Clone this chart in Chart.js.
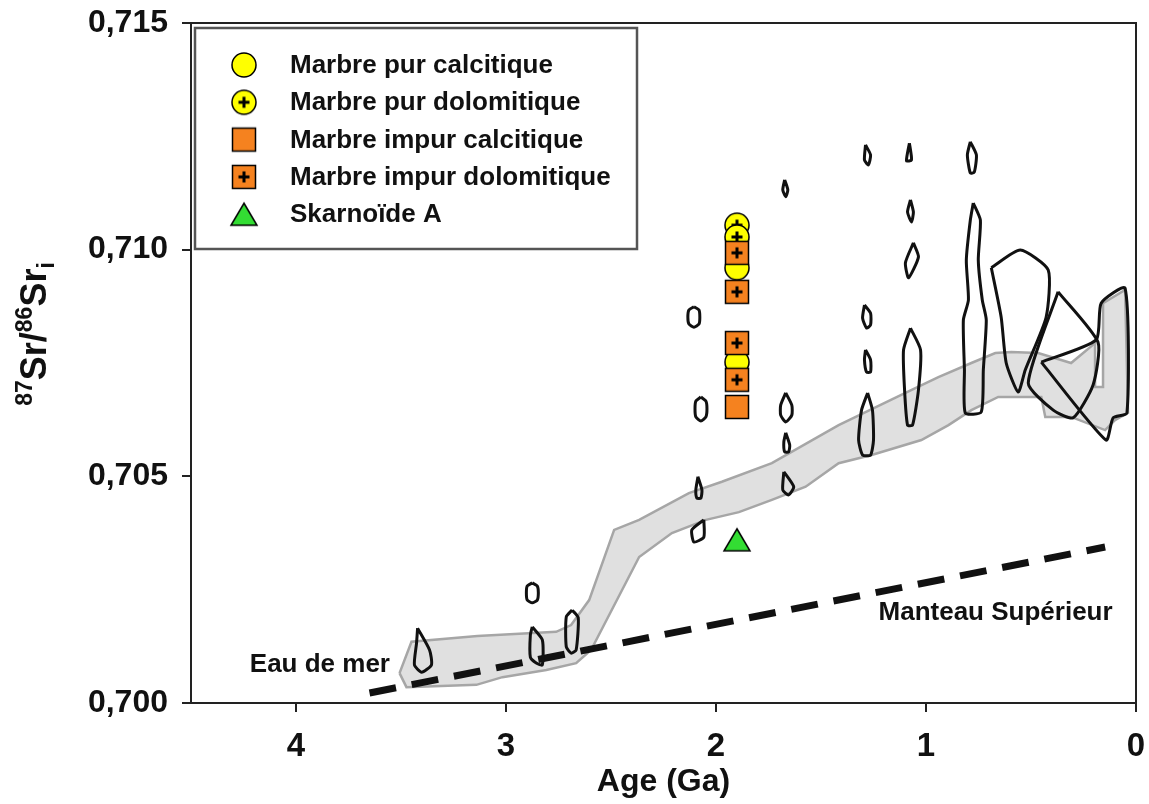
<!DOCTYPE html>
<html>
<head>
<meta charset="utf-8">
<script src="https://cdn.jsdelivr.net/npm/chart.js@4.4.1/dist/chart.umd.min.js"></script>
<style>
  body { margin: 0; background: #fff; }
  #wrap { width: 1149px; height: 804px; }
</style>
</head>
<body>
<div id="wrap"><canvas id="graphe" width="1149" height="804"></canvas></div>
<script>
// ---- axes ----
const xTicks = [0, 1, 2, 3, 4];
const yTicks = [0.700, 0.705, 0.710, 0.715];

// ---- échantillons (âge ~1,9 Ga) ----
const sampleAge = 1.9;
const pureCalciticSr = [0.70960, 0.70752];
const pureDolomiticSr = [0.71054, 0.71028];
const impureCalciticSr = [0.70653];
const impureDolomiticSr = [0.70993, 0.70907, 0.70794, 0.70713];
const skarnoidSr = [0.70360];

// ---- courbe de l'eau de mer (bande grise) : bord haut puis bord bas ----
const bandAges = [3.507, 3.450, 3.136, 2.761, 2.690, 2.604, 2.485, 2.366, 2.129, 1.972,
  1.734, 1.416, 1.098, 0.941, 0.784, 0.670, 0.594, 0.466, 0.309, 0.195,
  0.195, 0.157, 0.157, 0.052, 0.038,
  0.100, 0.147, 0.309, 0.432, 0.451, 0.656, 0.784, 0.893, 1.022, 1.259,
  1.416, 1.573, 1.734, 1.891, 2.048, 2.210, 2.366, 2.595, 2.666, 2.808,
  3.017, 3.141, 3.474, 3.507];
const bandSr = [0.70066, 0.70135, 0.70148, 0.70157, 0.70172, 0.70227, 0.70382, 0.70404, 0.70463, 0.70488,
  0.70529, 0.70613, 0.70684, 0.70719, 0.70750, 0.70772, 0.70774, 0.70772, 0.70750, 0.70794,
  0.70697, 0.70697, 0.70882, 0.70911, 0.70640,
  0.70624, 0.70602, 0.70631, 0.70631, 0.70675, 0.70675, 0.70646, 0.70613, 0.70580, 0.70547,
  0.70529, 0.70477, 0.70448, 0.70421, 0.70404, 0.70375, 0.70322, 0.70117, 0.70088, 0.70073,
  0.70057, 0.70040, 0.70035, 0.70066];

// ---- manteau supérieur (tirets) ----
const mantleAges = [3.65, 0.147];
const mantleSr = [0.70022, 0.70344];

// ---- contours noirs (carbonates marins) : [âge, Sr] ----
const contours = [
  [[3.421, 0.70165], [3.364, 0.70117], [3.355, 0.70084], [3.402, 0.70068], [3.436, 0.70084], [3.426, 0.70132]],
  [[2.875, 0.70168], [2.827, 0.70139], [2.827, 0.70084], [2.856, 0.70088], [2.884, 0.70101], [2.884, 0.70150]],
  [[2.685, 0.70205], [2.656, 0.70188], [2.666, 0.70117], [2.690, 0.70110], [2.713, 0.70124], [2.713, 0.70190]],
  [[2.875, 0.70265], [2.851, 0.70258], [2.846, 0.70243], [2.851, 0.70227], [2.875, 0.70221], [2.899, 0.70227], [2.903, 0.70243], [2.899, 0.70258]],
  [[2.105, 0.70874], [2.081, 0.70867], [2.077, 0.70851], [2.081, 0.70836], [2.105, 0.70829], [2.129, 0.70836], [2.134, 0.70851], [2.129, 0.70867]],
  [[2.072, 0.70675], [2.048, 0.70666], [2.043, 0.70649], [2.048, 0.70631], [2.072, 0.70622], [2.096, 0.70631], [2.100, 0.70649], [2.096, 0.70666]],
  [[2.086, 0.70499], [2.067, 0.70470], [2.072, 0.70452], [2.091, 0.70452], [2.096, 0.70470]],
  [[2.058, 0.70404], [2.058, 0.70366], [2.105, 0.70355], [2.115, 0.70382]],
  [[1.668, 0.70684], [1.639, 0.70657], [1.639, 0.70635], [1.668, 0.70620], [1.692, 0.70635], [1.692, 0.70657]],
  [[1.668, 0.70596], [1.649, 0.70569], [1.654, 0.70554], [1.673, 0.70554], [1.677, 0.70576]],
  [[1.677, 0.70510], [1.630, 0.70477], [1.654, 0.70459], [1.682, 0.70470]],
  [[1.673, 0.71154], [1.658, 0.71132], [1.668, 0.71117], [1.682, 0.71132]],
  [[1.288, 0.71231], [1.264, 0.71209], [1.274, 0.71187], [1.293, 0.71198]],
  [[1.293, 0.70878], [1.264, 0.70860], [1.264, 0.70834], [1.283, 0.70827], [1.302, 0.70849]],
  [[1.288, 0.70779], [1.264, 0.70757], [1.264, 0.70730], [1.283, 0.70730], [1.293, 0.70757]],
  [[1.278, 0.70684], [1.255, 0.70646], [1.250, 0.70580], [1.264, 0.70547], [1.302, 0.70547], [1.321, 0.70580], [1.307, 0.70646]],
  [[1.079, 0.71235], [1.069, 0.71198], [1.093, 0.71196]],
  [[1.074, 0.71110], [1.060, 0.71083], [1.069, 0.71061], [1.088, 0.71083]],
  [[1.060, 0.71015], [1.036, 0.70984], [1.083, 0.70938], [1.098, 0.70971]],
  [[1.074, 0.70827], [1.026, 0.70779], [1.036, 0.70690], [1.064, 0.70613], [1.088, 0.70613], [1.102, 0.70690], [1.107, 0.70779]],
  [[0.789, 0.71238], [0.760, 0.71209], [0.770, 0.71171], [0.789, 0.71169], [0.803, 0.71209]],
  [[0.775, 0.71103], [0.741, 0.71065], [0.751, 0.70977], [0.732, 0.70889], [0.713, 0.70845], [0.727, 0.70735], [0.737, 0.70642],
   [0.813, 0.70640], [0.817, 0.70735], [0.822, 0.70845], [0.798, 0.70889], [0.808, 0.70977], [0.789, 0.71065]],
  [[0.689, 0.70960], [0.551, 0.70999], [0.418, 0.70955], [0.428, 0.70851], [0.527, 0.70735], [0.561, 0.70686], [0.618, 0.70750], [0.642, 0.70851]],
  [[0.371, 0.70907], [0.181, 0.70796], [0.204, 0.70702], [0.299, 0.70629], [0.394, 0.70646], [0.513, 0.70706]],
  [[0.451, 0.70752], [0.190, 0.70801], [0.166, 0.70882], [0.052, 0.70915], [0.043, 0.70640], [0.109, 0.70629], [0.143, 0.70580]]
];

// ---- textes posés sur le graphe ----
const notes = [
  { text: 'Eau de mer', age: 4.22, sr: 0.70084 },
  { text: 'Manteau Supérieur', age: 1.226, sr: 0.70199 }
];

const FONT = "'Liberation Sans', Arial, sans-serif";

// symbole dessiné une fois sur un petit canvas, réutilisé pour les points et la légende
function symbole(forme, couleur, plus) {
  const c = document.createElement('canvas');
  c.width = 30; c.height = 30;
  const g = c.getContext('2d');
  g.fillStyle = couleur;
  g.strokeStyle = '#000';
  g.lineWidth = 1.5;
  g.beginPath();
  if (forme === 'rond') g.arc(15, 15, 12, 0, Math.PI * 2);
  else if (forme === 'carre') g.rect(3.5, 3.5, 23, 23);
  else { g.moveTo(15, 4); g.lineTo(28, 26); g.lineTo(2, 26); g.closePath(); }
  g.fill();
  g.stroke();
  if (plus) {
    g.lineWidth = 3;
    g.beginPath();
    g.moveTo(15, 9.5); g.lineTo(15, 20.5);
    g.moveTo(9.5, 15); g.lineTo(20.5, 15);
    g.stroke();
  }
  return c;
}

const JAUNE = '#FFFF00';
const ORANGE = '#F5821F';
const VERT = '#33DD33';

const serieEchantillons = [
  { label: 'Marbre pur calcitique', sr: pureCalciticSr, img: symbole('rond', JAUNE, false), order: 6 },
  { label: 'Marbre pur dolomitique', sr: pureDolomiticSr, img: symbole('rond', JAUNE, true), order: 5 },
  { label: 'Marbre impur calcitique', sr: impureCalciticSr, img: symbole('carre', ORANGE, false), order: 4 },
  { label: 'Marbre impur dolomitique', sr: impureDolomiticSr, img: symbole('carre', ORANGE, true), order: 3 },
  { label: 'Skarnoïde A', sr: skarnoidSr, img: symbole('triangle', VERT, false), order: 2 }
];

const datasets = [];

datasets.push({
  label: 'bande',
  data: bandAges.map((a, i) => ({ x: a, y: bandSr[i] })),
  showLine: true,
  fill: 'shape',
  backgroundColor: '#E0E0E0',
  borderColor: '#A6A6A6',
  borderWidth: 2.5,
  pointRadius: 0,
  order: 20
});

datasets.push({
  label: 'manteau',
  data: mantleAges.map((a, i) => ({ x: a, y: mantleSr[i] })),
  showLine: true,
  borderColor: '#111',
  borderWidth: 7,
  borderDash: [27, 16],
  pointRadius: 0,
  order: 19
});

contours.forEach((pts, k) => {
  const ferme = pts.concat([pts[0]]);
  datasets.push({
    label: 'contour' + k,
    data: ferme.map(p => ({ x: p[0], y: p[1] })),
    showLine: true,
    borderColor: '#111',
    borderWidth: 3,
    tension: 0.2,
    pointRadius: 0,
    order: 10
  });
});

serieEchantillons.forEach(s => {
  datasets.push({
    label: s.label,
    data: s.sr.map(v => ({ x: sampleAge, y: v })),
    pointStyle: s.img,
    pointRadius: 12,
    order: s.order
  });
});

// cadre, légende, annotations et titre de l'axe Y
const habillage = {
  id: 'habillage',
  afterDatasetsDraw(chart) {
    const { ctx, chartArea: ca, scales } = chart;
    ctx.save();

    // côtés haut et droit du cadre
    ctx.strokeStyle = '#222';
    ctx.lineWidth = 2;
    ctx.beginPath();
    ctx.moveTo(ca.left, ca.top);
    ctx.lineTo(ca.right, ca.top);
    ctx.lineTo(ca.right, ca.bottom);
    ctx.stroke();

    // légende
    const lx = ca.left + 4, ly = ca.top + 5, lw = 442, lh = 221;
    ctx.fillStyle = '#fff';
    ctx.fillRect(lx, ly, lw, lh);
    ctx.strokeStyle = '#555';
    ctx.lineWidth = 2.5;
    ctx.strokeRect(lx, ly, lw, lh);
    ctx.font = 'bold 26px ' + FONT;
    ctx.fillStyle = '#111';
    ctx.textBaseline = 'middle';
    ctx.textAlign = 'left';
    serieEchantillons.forEach((s, i) => {
      const cy = ly + 37 + i * 37.3;
      ctx.drawImage(s.img, lx + 49 - 15, cy - 15);
      ctx.fillText(s.label, lx + 95, cy + 1);
    });

    // annotations
    notes.forEach(n => {
      ctx.fillText(n.text, scales.x.getPixelForValue(n.age), scales.y.getPixelForValue(n.sr));
    });

    // titre Y : 87Sr/86Sri
    const morceaux = [
      { t: '87', f: 'bold 23px ' + FONT, dy: -14 },
      { t: 'Sr/', f: 'bold 36px ' + FONT, dy: 0 },
      { t: '86', f: 'bold 23px ' + FONT, dy: -14 },
      { t: 'Sr', f: 'bold 36px ' + FONT, dy: 0 },
      { t: 'i', f: 'bold 23px ' + FONT, dy: 8 }
    ];
    let total = 0;
    morceaux.forEach(m => { ctx.font = m.f; m.w = ctx.measureText(m.t).width; total += m.w; });
    ctx.translate(46, 334);
    ctx.rotate(-Math.PI / 2);
    ctx.textBaseline = 'alphabetic';
    let x = -total / 2;
    morceaux.forEach(m => {
      ctx.font = m.f;
      ctx.fillText(m.t, x, m.dy);
      x += m.w;
    });
    ctx.restore();
  }
};

new Chart(document.getElementById('graphe'), {
  type: 'scatter',
  data: { datasets },
  options: {
    responsive: false,
    animation: false,
    devicePixelRatio: 1,
    layout: { padding: { top: 23, right: 11, left: 0, bottom: 0 } },
    plugins: { legend: { display: false }, tooltip: { enabled: false } },
    scales: {
      x: {
        type: 'linear',
        min: 0,
        max: 4.5,
        reverse: true,
        afterFit: s => { s.height = 101; s.paddingLeft = 0; s.paddingRight = 0; },
        afterBuildTicks: s => { s.ticks = xTicks.map(v => ({ value: v })); },
        ticks: { color: '#111', font: { family: FONT, size: 33, weight: 'bold' }, padding: 15, callback: v => String(v) },
        grid: { drawOnChartArea: false, tickLength: 9, color: '#222', lineWidth: 2 },
        border: { color: '#222', width: 2 },
        title: { display: true, text: 'Age (Ga)', color: '#111', font: { family: FONT, size: 32, weight: 'bold' }, padding: { top: 0, bottom: 3 } }
      },
      y: {
        min: 0.7,
        max: 0.715,
        afterFit: s => { s.width = 191; s.paddingTop = 0; s.paddingBottom = 0; },
        afterBuildTicks: s => { s.ticks = yTicks.map(v => ({ value: v })); },
        ticks: { color: '#111', font: { family: FONT, size: 32, weight: 'bold' }, padding: 14, callback: v => v.toFixed(3).replace('.', ',') },
        grid: { drawOnChartArea: false, tickLength: 9, color: '#222', lineWidth: 2 },
        border: { color: '#222', width: 2 }
      }
    }
  },
  plugins: [habillage]
});
</script>
</body>
</html>
